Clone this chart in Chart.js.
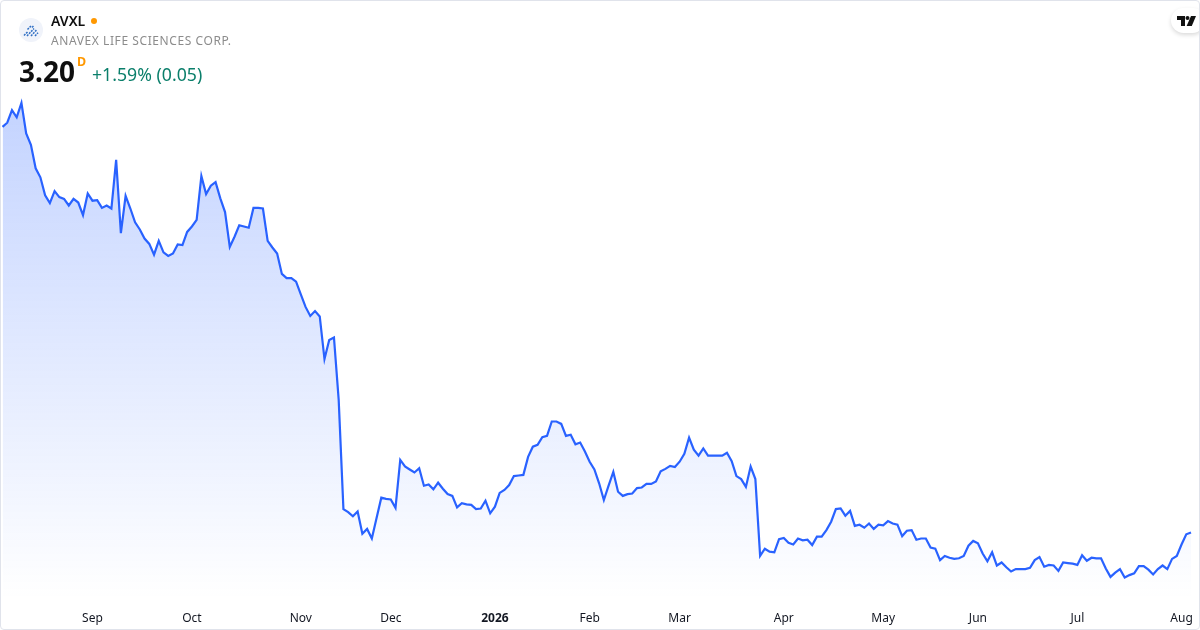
<!DOCTYPE html>
<html>
<head>
<meta charset="utf-8">
<style>
html,body{margin:0;padding:0;background:#fff;width:1200px;height:630px;overflow:hidden;font-family:"Noto Sans",sans-serif}
#wrap{position:relative;width:1200px;height:630px;overflow:hidden}
#frame{position:absolute;left:0;top:0;width:1198px;height:628px;border:1px solid #e0e3eb;border-radius:4px;pointer-events:none;z-index:3}
canvas{position:absolute;left:0;top:0}
.t{position:absolute;white-space:nowrap;z-index:2}
#logo{position:absolute;left:19px;top:18px;width:24px;height:24px;z-index:2}
#tv{position:absolute;left:1171px;top:8px;width:34px;height:25px;background:#fff;border-radius:13px;box-shadow:0 2px 4px rgba(0,0,0,.15);z-index:2}
#dot{position:absolute;left:91px;top:18px;width:6px;height:6px;border-radius:50%;background:#ff9800;z-index:2}
</style>
</head>
<body>
<div id="wrap">
<canvas id="c" width="1200" height="630"></canvas>
<div id="frame"></div>
<svg id="logo" viewBox="0 0 24 24"><circle cx="12" cy="12" r="12" fill="#f0f3fa"/><g stroke="#2f6fc4" stroke-width="1.5" stroke-dasharray="2 1" fill="none"><path d="M5 17.5l3.5-3.5"/><path d="M8 18l7-7.5"/><path d="M12 18l6-6.5"/><path d="M16 18l3-3.2"/><path d="M8.5 11.5l3.5-3.5"/><path d="M13 9.5l2-2"/></g></svg>
<div class="t" style="left:51px;top:11px;font-size:14px;line-height:20px;font-weight:600;color:#0f0f0f">AVXL</div>
<div id="dot"></div>
<div class="t" style="left:51px;top:32px;font-size:12px;line-height:18px;letter-spacing:.58px;color:#8c8c8c">ANAVEX LIFE SCIENCES CORP.</div>
<div class="t" style="left:19px;top:52px;font-size:28px;line-height:38px;font-weight:700;color:#0f0f0f">3.20</div>
<div class="t" style="left:77px;top:54px;font-size:12.5px;line-height:16px;font-weight:700;color:#ff9800">D</div>
<div class="t" style="left:92px;top:62px;font-size:17.7px;line-height:25px;color:#0b7f6b">+1.59% (0.05)</div>
<div id="tv"><svg style="position:absolute;left:6px;top:8px" width="19" height="10" viewBox="0 0 19 10"><path d="M0 0h8v10H4V4H0z" fill="#111"/><circle cx="10.5" cy="2" r="2" fill="#111"/><path d="M14 0h5l-4.2 10H9.6z" fill="#111"/></svg></div>
</div>
<script src="https://cdn.jsdelivr.net/npm/chart.js@4"></script>
<script>
const closes = [
9.96,10.03,10.24,10.12,10.36,9.85,9.66,9.27,9.12,8.82,8.69,8.89,8.79,8.76,8.65,8.76,8.70,8.49,8.85,8.73,
8.74,8.61,8.65,8.60,9.41,8.19,8.81,8.60,8.37,8.25,8.10,8.01,7.83,8.06,7.87,7.81,7.85,8.00,7.99,8.21,
8.30,8.41,9.14,8.84,8.98,9.04,8.77,8.54,7.96,8.13,8.32,8.30,8.28,8.61,8.61,8.60,8.06,7.95,7.85,7.51,
7.44,7.44,7.38,7.17,6.96,6.81,6.89,6.80,6.09,6.41,6.45,5.41,3.59,3.54,3.47,3.55,3.18,3.26,3.10,3.44,
3.78,3.76,3.75,3.61,4.41,4.30,4.25,4.20,4.27,3.98,4.00,3.92,4.03,3.93,3.84,3.81,3.62,3.69,3.67,3.66,
3.59,3.60,3.73,3.52,3.63,3.86,3.91,3.99,4.14,4.15,4.16,4.46,4.63,4.66,4.79,4.81,5.05,5.05,5.01,4.81,
4.83,4.67,4.70,4.55,4.38,4.25,4.02,3.74,3.98,4.21,3.88,3.81,3.84,3.85,3.94,3.95,4.01,4.01,4.05,4.22,
4.26,4.31,4.29,4.38,4.51,4.78,4.58,4.48,4.60,4.48,4.48,4.48,4.48,4.53,4.39,4.14,4.09,3.96,4.30,4.09,
2.81,2.93,2.88,2.87,3.09,3.11,3.03,3.00,3.10,3.07,3.08,2.99,3.13,3.13,3.24,3.38,3.59,3.60,3.48,3.56,
3.31,3.33,3.28,3.35,3.26,3.33,3.32,3.39,3.35,3.33,3.14,3.23,3.24,3.08,3.10,3.10,2.95,2.93,2.74,2.81,
2.78,2.76,2.77,2.81,2.98,3.06,3.02,2.85,2.72,2.87,2.65,2.70,2.62,2.55,2.59,2.59,2.59,2.61,2.74,2.79,
2.63,2.66,2.65,2.56,2.70,2.69,2.68,2.66,2.82,2.73,2.78,2.77,2.77,2.60,2.46,2.53,2.59,2.45,2.49,2.52,
2.64,2.64,2.58,2.50,2.59,2.65,2.59,2.76,2.81,3.00,3.17,3.20
];
const tickLabels = ["Sep","Oct","Nov","Dec","2026","Feb","Mar","Apr","May","Jun","Jul","Aug"];
const tickIndex = [19,40,63,82,104,124,143,165,186,206,227,249];
const categories = closes.map((_, i) => {
  const k = tickIndex.indexOf(i);
  return k >= 0 ? tickLabels[k] : "";
});
const FONT = '"Noto Sans", sans-serif';
new Chart(document.getElementById('c'), {
  type: 'line',
  data: {
    labels: categories,
    datasets: [{
      data: closes,
      borderColor: '#2962ff',
      borderWidth: 2.2,
      pointRadius: 0,
      tension: 0,
      fill: 'start',
      backgroundColor: (ctx) => {
        const a = ctx.chart.chartArea;
        if (!a) return 'rgba(41,98,255,0.2)';
        const g = ctx.chart.ctx.createLinearGradient(0, 100, 0, a.bottom);
        g.addColorStop(0, 'rgba(41,98,255,0.28)');
        g.addColorStop(1, 'rgba(41,98,255,0)');
        return g;
      }
    }]
  },
  options: {
    responsive: false,
    animation: false,
    events: [],
    layout: { padding: { left: 2.5, right: 9, top: 0, bottom: 0 } },
    plugins: { legend: { display: false }, tooltip: { enabled: false } },
    scales: {
      y: { display: false, min: 2.075, max: 12.075 },
      x: {
        offset: false,
        afterFit: (s) => { s.height = 30; s.paddingLeft = 0; s.paddingRight = 0; },
        grid: { display: false },
        border: { display: false },
        ticks: {
          autoSkip: false, maxRotation: 0, minRotation: 0, padding: 3,
          color: '#131722',
          font: (ctx) => ({ family: FONT, size: 12, weight: ctx.tick && ctx.tick.label === '2026' ? '700' : '400' })
        }
      }
    }
  }
});
</script>
</body>
</html>
